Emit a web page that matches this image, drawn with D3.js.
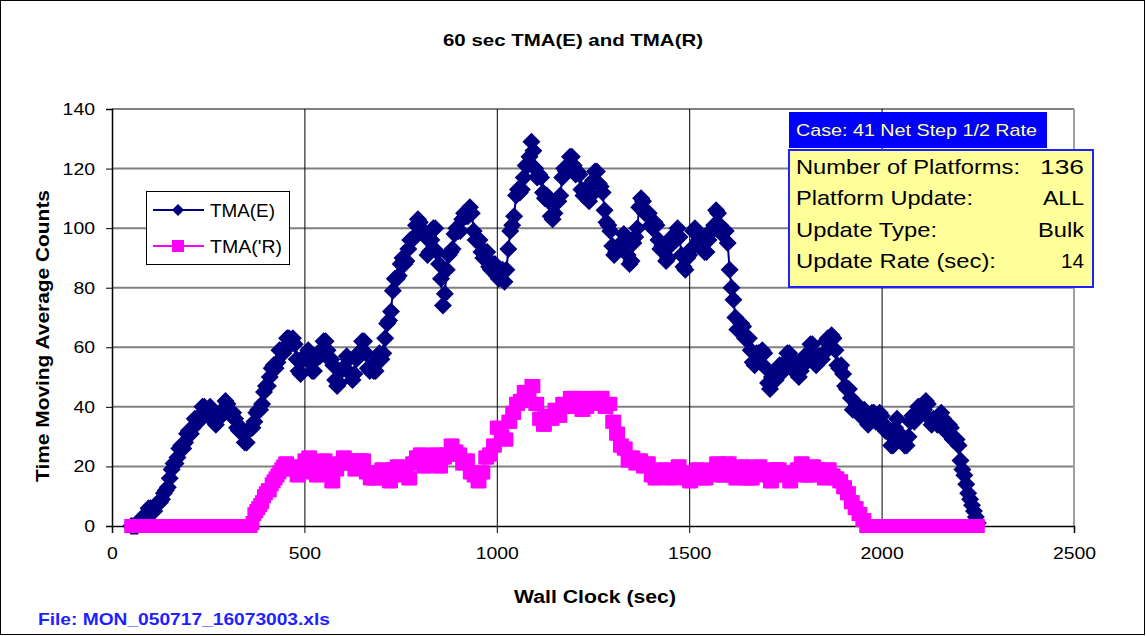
<!DOCTYPE html>
<html><head><meta charset="utf-8">
<script src="https://cdn.jsdelivr.net/npm/d3@7"></script>
<style>body{margin:0;background:#fff}svg{display:block;font-family:"Liberation Sans",Arial,sans-serif}</style>
</head><body><svg id="c" width="1146" height="636"></svg>
<script>
// ---- data ----
const tStart = 50, tStep = 5; // sample times: 50,55,...,2250 s
const tmaE = [0,0,0,0,1,2,3,3,4,6,6,5,5,7,8,8,9,11,12,13,
16,19,21,21,23,26,27,26,28,31,32,31,33,36,36,35,37,40,40,38,
39,40,38,35,34,37,38,37,39,42,41,38,37,38,36,33,32,33,31,28,
28,32,33,33,35,38,39,39,41,45,47,47,50,53,54,53,55,59,59,58,
60,63,63,61,63,61,56,52,51,56,57,56,59,57,52,52,56,58,57,58,
62,62,59,56,56,54,49,47,48,52,53,53,57,56,51,49,51,56,58,58,
62,62,58,53,52,54,52,52,56,58,56,58,63,68,69,72,79,83,83,84,
88,90,88,89,93,96,96,97,101,103,102,99,99,97,91,92,96,100,100,92,
88,83,74,78,86,91,92,93,98,100,99,99,103,105,104,104,107,105,99,96,
96,96,92,90,92,92,87,86,88,88,84,83,85,86,82,86,93,99,101,104,
111,113,112,113,117,121,121,124,129,126,120,117,118,117,112,110,111,109,104,103,
105,109,109,111,117,120,119,120,124,124,121,118,119,118,113,111,113,113,109,111,
116,119,119,115,114,112,106,102,101,99,94,91,92,94,93,94,98,96,91,88,
89,95,97,100,107,110,109,105,105,105,101,100,102,101,96,93,94,93,89,90,
94,97,96,96,100,97,91,87,86,90,91,93,99,100,98,96,97,96,92,92,
96,99,99,101,106,105,101,98,99,99,95,86,80,76,70,66,66,68,67,63,
63,63,59,55,54,58,58,57,59,58,53,48,46,50,50,49,51,54,54,52,
54,58,58,55,55,55,51,50,52,56,57,55,57,61,61,56,54,57,57,56,
58,62,63,62,64,63,59,54,53,54,51,47,46,46,43,39,39,41,40,37,
37,39,37,34,35,38,38,35,36,38,37,33,32,33,31,27,27,33,36,31,
29,30,27,27,30,35,37,35,36,40,40,38,39,42,41,36,34,36,35,34,
36,38,36,32,32,34,33,29,29,29,27,22,19,17,14,11,9,7,5,3,
1];
const tmaR = [0,0,0,0,0,0,0,0,0,0,0,0,0,0,0,0,0,0,0,0,0,0,0,0,0,0,0,0,0,0,
0,0,0,0,0,0,0,0,0,0,0,0,0,0,0,0,0,0,0,0,0,0,0,0,0,0,0,0,0,0,0,0,0,
1,4,5,6,7,8,10,11,12,12,14,15,16,17,18,19,20,
21,21,19,19,20,20,17,17,19,19,22,22,23,23,18,18,17,17,20,20,22,22,19,19,
15,15,19,19,21,21,23,23,22,22,21,21,19,19,22,22,22,22,18,18,16,16,16,16,18,18,19,19,16,16,15,15,19,19,20,20,17,17,19,19,
16,16,21,21,23,23,24,24,20,20,23,23,21,21,24,24,20,20,23,23,24,24,27,27,25,25,24,24,21,21,22,22,18,18,17,17,15,15,18,18,
23,23,24,24,27,27,33,33,30,30,29,29,35,35,38,38,41,41,42,42,45,45,45,45,47,47,41,41,36,36,34,34,37,37,36,36,39,39,37,37,
41,41,40,40,43,43,42,42,43,43,39,39,40,40,41,41,43,43,41,41,43,43,40,40,41,41,35,35,31,31,27,27,26,26,22,22,23,23,21,21,
22,22,20,20,21,21,17,17,16,16,18,18,19,19,17,17,16,16,18,18,20,20,17,17,16,16,15,15,18,18,19,19,16,16,16,16,18,18,19,19,
21,21,17,17,17,17,21,21,18,18,16,16,19,19,20,20,16,16,16,16,19,19,20,20,18,18,17,17,15,15,19,19,19,19,17,17,17,17,15,15,
18,18,19,19,21,21,17,17,17,17,20,20,19,19,18,18,16,16,19,19,17,17,16,16,15,15,13,13,11,11,8,8,6,6,4,4,2,2,0,0,
0,0,0,0,0,0,0,0,0,0,0,0,0,0,0,0,0,0,0,0,0,0,0,0,0,0,0,0,0,0,
0,0,0,0,0,0,0,0,0,0,0,0,0,0,0,0,0,0,0,0,0,0,0,0,0,0,0];
const xTicks = [0,500,1000,1500,2000,2500];
const yTicks = [0,20,40,60,80,100,120,140];
const seriesNames = ["TMA(E)","TMA('R)"];
const infoLabels = ["Number of Platforms:","Platform Update:","Update Type:","Update Rate (sec):"];
const infoValues = ["136","ALL","Bulk","14"];
const caseText = "Case: 41 Net Step 1/2 Rate";
const titleText = "60 sec TMA(E) and TMA(R)";
const fileText = "File: MON_050717_16073003.xls";

// ---- chart ----
const svg = d3.select("#c");
const L=112, R=1074, T=109, B=526;
const x = d3.scaleLinear().domain([0,2500]).range([L,R]);
const y = d3.scaleLinear().domain([0,140]).range([B,T]);
const colE = "#000080", colR = "#ff00ff";

svg.append("rect").attr("x",0.5).attr("y",0.5).attr("width",1144).attr("height",634)
  .attr("fill","#fff").attr("stroke","#000");

// gridlines
svg.append("g").selectAll("line").data(yTicks.filter(d=>d>0)).join("line")
  .attr("x1",L).attr("x2",R).attr("y1",d=>y(d)).attr("y2",d=>y(d))
  .attr("stroke","#808080").attr("stroke-width",2);
svg.append("g").selectAll("line").data(xTicks.filter(d=>d>0&&d<2500)).join("line")
  .attr("x1",d=>x(d)+0.5).attr("x2",d=>x(d)+0.5).attr("y1",T).attr("y2",B)
  .attr("stroke","#000").attr("stroke-width",1);
svg.append("line").attr("x1",R).attr("x2",R).attr("y1",T).attr("y2",B).attr("stroke","#a0a0a0").attr("stroke-width",2);

// axes
const xAxis = svg.append("g").attr("transform",`translate(0,${B})`)
  .call(d3.axisBottom(x).tickValues(xTicks).tickSize(7).tickPadding(14).tickFormat(d3.format("d")));
const yAxis = svg.append("g").attr("transform",`translate(${L},0)`)
  .call(d3.axisLeft(y).tickValues(yTicks).tickSize(6).tickPadding(11).tickFormat(d3.format("d")));
[xAxis,yAxis].forEach(g=>{
  g.select(".domain").attr("stroke","#000").attr("stroke-width",1.5);
  g.selectAll(".tick line").attr("stroke","#000");
  g.selectAll("text").attr("font-size",17).attr("font-family","Liberation Sans, Arial").attr("fill","#000")
    .attr("textLength",function(){return this.textContent.length*10.8;}).attr("lengthAdjust","spacingAndGlyphs");
});

const times = tmaE.map((_,i)=>tStart+i*tStep);
const line = d3.line().x((d,i)=>x(times[i])).y(d=>y(d));
const diamond = "M0,-9L9,0L0,9L-9,0Z";
const sq = 14;

// series E
svg.append("path").datum(tmaE).attr("d",line).attr("fill","none").attr("stroke",colE).attr("stroke-width",2);
svg.append("g").selectAll("path").data(tmaE).join("path")
  .attr("d",diamond).attr("transform",(d,i)=>`translate(${x(times[i])},${y(d)})`).attr("fill",colE);
// series R
svg.append("path").datum(tmaR).attr("d",line).attr("fill","none").attr("stroke",colR).attr("stroke-width",2);
svg.append("g").selectAll("rect").data(tmaR).join("rect")
  .attr("x",(d,i)=>x(times[i])-sq/2).attr("y",d=>y(d)-sq/2).attr("width",sq).attr("height",sq).attr("fill",colR);

// title & labels
svg.append("text").attr("x",443).attr("y",46).attr("textLength",260).attr("lengthAdjust","spacingAndGlyphs")
  .attr("font-size",17).attr("font-weight","bold").text(titleText);
svg.append("text").attr("x",514).attr("y",603).attr("textLength",162).attr("lengthAdjust","spacingAndGlyphs")
  .attr("font-size",18).attr("font-weight","bold").text("Wall Clock (sec)");
svg.append("text").attr("transform","translate(49,482) rotate(-90)").attr("textLength",292).attr("lengthAdjust","spacingAndGlyphs")
  .attr("font-size",18).attr("font-weight","bold").text("Time Moving Average Counts");
svg.append("text").attr("x",38).attr("y",625).attr("font-size",17).attr("font-weight","bold")
  .attr("textLength",292).attr("lengthAdjust","spacingAndGlyphs")
  .attr("fill","#1f1fff").text(fileText);

// legend
const lg = svg.append("g");
lg.append("rect").attr("x",146.5).attr("y",191.5).attr("width",143).attr("height",73)
  .attr("fill","#fff").attr("stroke","#000");
const legW = [65,72];
[[colE,"d"],[colR,"s"]].forEach((s,i)=>{
  const yy = 210 + i*36;
  lg.append("line").attr("x1",153).attr("x2",204).attr("y1",yy).attr("y2",yy).attr("stroke",s[0]).attr("stroke-width",2);
  if(s[1]==="d") lg.append("path").attr("d","M0,-6L6,0L0,6L-6,0Z").attr("transform",`translate(178,${yy})`).attr("fill",s[0]);
  else lg.append("rect").attr("x",172).attr("y",yy-6).attr("width",12).attr("height",12).attr("fill",s[0]);
  lg.append("text").attr("x",210).attr("y",yy+7).attr("font-size",18)
    .attr("textLength",legW[i]).attr("lengthAdjust","spacingAndGlyphs").text(seriesNames[i]);
});

// info box
svg.append("rect").attr("x",789).attr("y",112).attr("width",258).attr("height",36).attr("fill","#0000ff");
svg.append("text").attr("x",796).attr("y",136).attr("font-size",17).attr("fill","#ffff99")
  .attr("textLength",241).attr("lengthAdjust","spacingAndGlyphs").text(caseText);
svg.append("rect").attr("x",789).attr("y",150).attr("width",304).attr("height",137)
  .attr("fill","#ffff99").attr("stroke","#1f1fff").attr("stroke-width",2);
const infoW = [224,177,141,200];
const valW = [44,41,46,23];
infoLabels.forEach((t,i)=>{
  const yy = 174 + i*31.3;
  svg.append("text").attr("x",796).attr("y",yy).attr("font-size",21)
    .attr("textLength",infoW[i]).attr("lengthAdjust","spacingAndGlyphs").text(t);
  svg.append("text").attr("x",1084-valW[i]).attr("y",yy).attr("font-size",21)
    .attr("textLength",valW[i]).attr("lengthAdjust","spacingAndGlyphs").text(infoValues[i]);
});
</script></body></html>
